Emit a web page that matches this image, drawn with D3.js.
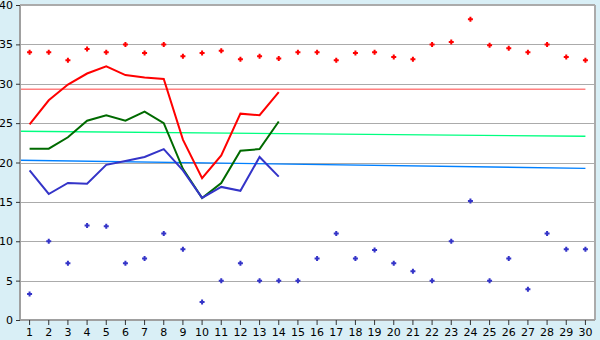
<!DOCTYPE html>
<html>
<head>
<meta charset="utf-8">
<script src="https://cdn.jsdelivr.net/npm/d3@7"></script>
<style>
  html, body { margin: 0; padding: 0; background: #d9eff6; }
  svg { display: block; }
  text { font-family: "DejaVu Sans", Verdana, sans-serif; font-size: 11px; fill: #000; }
</style>
</head>
<body>
<div id="chart"></div>
<script>
// Categories (days) and tick labels
const days = d3.range(1, 31);
const yTicks = [0, 5, 10, 15, 20, 25, 30, 35, 40];

// Scatter series
const highDots = [34.0, 34.0, 33.0, 34.4, 34.0, 35.0, 33.9, 35.0, 33.5, 33.9,
                  34.2, 33.1, 33.5, 33.2, 34.0, 34.0, 33.0, 33.9, 34.0, 33.4,
                  33.1, 35.0, 35.3, 38.2, 34.9, 34.5, 34.0, 35.0, 33.4, 33.0];
const lowDots = [3.3, 10.0, 7.2, 12.0, 11.9, 7.2, 7.8, 11.0, 9.0, 2.3,
                 5.0, 7.2, 5.0, 5.0, 5.0, 7.8, 11.0, 7.8, 8.9, 7.2,
                 6.2, 5.0, 10.0, 15.1, 5.0, 7.8, 3.9, 11.0, 9.0, 9.0];

// Line series (days 1-14)
const redLine = [24.85, 27.9, 29.9, 31.3, 32.2, 31.1, 30.8, 30.6, 22.9, 18.0, 20.9, 26.2, 26.0, 28.95];
const greenLine = [21.75, 21.75, 23.2, 25.3, 26.0, 25.3, 26.45, 25.0, 19.2, 15.5, 17.4, 21.5, 21.7, 25.2];
const blueLine = [19.0, 16.0, 17.4, 17.3, 19.7, 20.2, 20.7, 21.7, 19.0, 15.5, 16.9, 16.4, 20.7, 18.2];

// Trend lines: values at start / end (in day units)
const trendX = [0.5, 30];
const trendRed = [29.3, 29.3];
const trendGreen = [23.96, 23.33];
const trendBlue = [20.28, 19.26];

const viewW = 600, viewH = 340;
const margin = { top: 5, right: 5, bottom: 20, left: 20 };

const svg = d3.select("#chart").append("svg")
    .attr("width", viewW)
    .attr("height", viewH);

const x = d3.scaleBand().domain(days).range([margin.left, viewW - margin.right]);
const xc = d => x(d) + x.bandwidth() / 2;
const xl = d3.scaleLinear().domain([0.5, 30.5]).range([margin.left, viewW - margin.right]);
const y = d3.scaleLinear().domain([0, 40]).range([viewH - margin.bottom, margin.top]);

// Plot background
svg.append("rect")
    .attr("x", margin.left)
    .attr("y", margin.top)
    .attr("width", viewW - margin.left - margin.right)
    .attr("height", viewH - margin.top - margin.bottom)
    .attr("fill", "#fff");

// Gridlines
svg.append("g")
    .selectAll("line")
    .data(yTicks.slice(1))
    .join("line")
    .attr("x1", margin.left)
    .attr("x2", viewW - margin.right)
    .attr("y1", d => Math.round(y(d)) + 0.5)
    .attr("y2", d => Math.round(y(d)) + 0.5)
    .attr("stroke", "#ababab")
    .attr("stroke-width", 1.2);

// Right border
svg.append("line")
    .attr("x1", viewW - margin.right)
    .attr("x2", viewW - margin.right)
    .attr("y1", margin.top)
    .attr("y2", viewH - margin.bottom)
    .attr("stroke", "#ababab")
    .attr("stroke-width", 2);

// Trend lines
const trendLine = d3.line().x(d => xl(d[0])).y(d => y(d[1]));
[[trendRed, "#ff8080"], [trendGreen, "#00ff80"], [trendBlue, "#0080ff"]].forEach(([vals, col]) => {
    svg.append("path")
        .attr("d", trendLine(trendX.map((t, i) => [t, vals[i]])))
        .attr("fill", "none")
        .attr("stroke", col)
        .attr("stroke-width", 1.4);
});

// Series lines
const line = d3.line().x((d, i) => xc(days[i])).y(d => y(d));
[[redLine, "#ff0000"], [greenLine, "#006a00"], [blueLine, "#3434c8"]].forEach(([vals, col]) => {
    svg.append("path")
        .attr("d", line(vals))
        .attr("fill", "none")
        .attr("stroke", col)
        .attr("stroke-width", 2);
});

// Scatter markers (small bold plus)
const plus = "M-1,-2.5H1V-1H2.5V1H1V2.5H-1V1H-2.5V-1H-1Z";
svg.append("g").selectAll("path")
    .data(highDots)
    .join("path")
    .attr("d", plus)
    .attr("transform", (d, i) => `translate(${xc(days[i])},${y(d)})`)
    .attr("fill", "#ff0000");

svg.append("g").selectAll("path")
    .data(lowDots)
    .join("path")
    .attr("d", plus)
    .attr("transform", (d, i) => `translate(${xc(days[i])},${y(d)})`)
    .attr("fill", "#3434c8");

// Axes
const yAxis = d3.axisLeft(y).tickValues(yTicks).tickSize(4).tickPadding(3);
const gy = svg.append("g")
    .attr("transform", `translate(${margin.left},0)`)
    .call(yAxis);

const xAxis = d3.axisBottom(x).tickSize(5).tickPadding(3).tickSizeOuter(0);
const gx = svg.append("g")
    .attr("transform", `translate(0,${viewH - margin.bottom})`)
    .call(xAxis);

[gx, gy].forEach(g => {
    g.selectAll(".domain").attr("stroke", "#a0a0a0").attr("stroke-width", 2);
    g.selectAll(".tick line").attr("stroke", "#333");
    g.selectAll("text").attr("font-size", 11).attr("font-family", "DejaVu Sans, Verdana, sans-serif");
});
gy.select(".domain").attr("d", `M0,${margin.top}V${viewH - margin.bottom}`);
gx.select(".domain").attr("d", `M${margin.left},0H${viewW - margin.right}`);

// Top border
svg.append("line")
    .attr("x1", margin.left)
    .attr("x2", viewW - margin.right)
    .attr("y1", margin.top)
    .attr("y2", margin.top)
    .attr("stroke", "#ababab")
    .attr("stroke-width", 2);
</script>
</body>
</html>
